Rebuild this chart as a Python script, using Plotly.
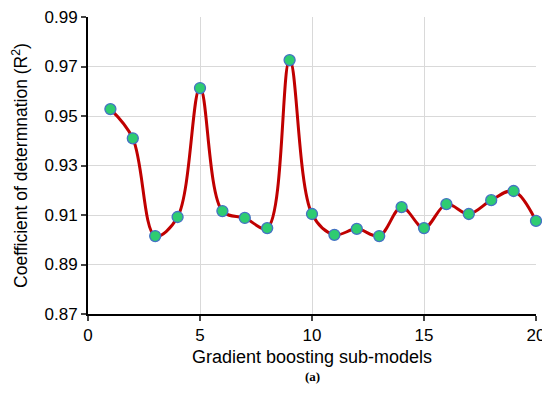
import plotly.graph_objects as go

models = list(range(1, 21))
r2 = [0.9528, 0.9410, 0.9015, 0.9092, 0.9613, 0.9116, 0.9088, 0.9047, 0.9726, 0.9104,
      0.9020, 0.9044, 0.9015, 0.9132, 0.9047, 0.9144, 0.9104, 0.9160, 0.9197, 0.9076]
x_ticks = [0, 5, 10, 15, 20]
y_ticks = [0.87, 0.89, 0.91, 0.93, 0.95, 0.97, 0.99]

fig = go.Figure()
fig.add_trace(go.Scatter(
    x=models, y=r2, mode="lines+markers", cliponaxis=False,
    line=dict(color="#C00000", width=3, shape="spline", smoothing=1),
    marker=dict(size=11, color="#2ECC71", line=dict(color="#4472C4", width=1.3)),
    showlegend=False,
))

fig.update_layout(
    width=542, height=379,
    margin=dict(l=80, r=14, t=9, b=73),
    paper_bgcolor="white", plot_bgcolor="white",
    font=dict(family="Liberation Sans, Arial, sans-serif", color="black", size=17),
    annotations=[dict(text="<b>(a)</b>", x=0.5, y=-0.18, xref="paper", yref="paper",
                      showarrow=False, font=dict(family="Liberation Serif, serif", size=13),
                      yanchor="top")],
)
fig.update_xaxes(
    range=[0, 20], tickvals=x_ticks, ticks="outside", ticklen=5, tickwidth=2,
    showline=True, linecolor="black", linewidth=2, showgrid=True, gridcolor="#D9D9D9",
    gridwidth=1, zeroline=False, ticklabeloverflow="allow", automargin=False,
    title=dict(text="Gradient boosting sub-models", font=dict(size=18), standoff=6),
    tickfont=dict(size=17),
)
fig.update_yaxes(
    range=[0.87, 0.99], tickvals=y_ticks, tickformat=".2f", ticks="outside", ticklen=5,
    tickwidth=2, showline=True, linecolor="black", linewidth=2, showgrid=True,
    gridcolor="#D9D9D9", gridwidth=1, zeroline=False, ticklabeloverflow="allow", automargin=False,
    title=dict(text="Coefficient of determnation (R<sup>2</sup>)", font=dict(size=17.5), standoff=12),
    tickfont=dict(size=17),
)

fig.write_html("out.html")
